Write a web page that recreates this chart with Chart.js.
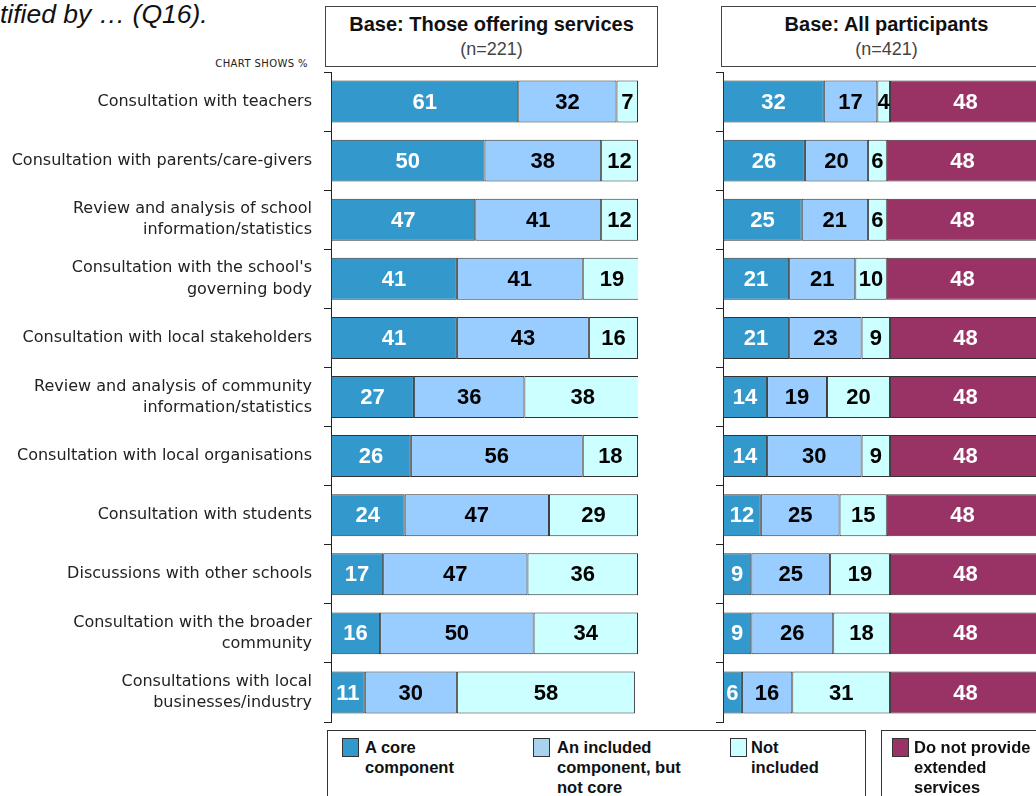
<!DOCTYPE html>
<html>
<head>
<meta charset="utf-8">
<script src="https://cdn.jsdelivr.net/npm/chart.js@4.4.1/dist/chart.umd.min.js"></script>
<style>
  body { margin: 0; width: 1036px; height: 796px; overflow: hidden; background: #fff; position: relative;
         font-family: "Liberation Sans", Arial, sans-serif; }
  canvas { position: absolute; }
  .title { position: absolute; left: 0; top: -1px; font-size: 26.5px; font-style: italic; color: #111; white-space: nowrap; }
  .shows { position: absolute; right: 728px; top: 58px; font: 10px "DejaVu Sans", sans-serif; letter-spacing: 0.4px; color: #222; white-space: nowrap; }
  .head { position: absolute; top: 6px; height: 59px; border: 1px solid #444; background: #fff; text-align: center; }
  .head b { display: block; font-size: 20px; margin-top: 6px; line-height: 22px; color: #111; }
  .head span { display: block; font-size: 18px; line-height: 22px; margin-top: 3px; color: #444; }
  .leg { position: absolute; top: 730px; height: 80px; border: 1px solid #333; background: #fff; }
  .item { position: absolute; top: 6px; font-weight: bold; font-size: 16.5px; line-height: 20px; color: #111; white-space: nowrap; }
  .sw { position: absolute; top: 7px; width: 15px; height: 17px; border: 1px solid #333; }
</style>
</head>
<body>
<div class="title">tified by … (Q16).</div>
<div class="shows">CHART SHOWS %</div>
<div class="head" style="left:325px;width:331px"><b>Base: Those offering services</b><span>(n=221)</span></div>
<div class="head" style="left:721px;width:329px"><b>Base: All participants</b><span>(n=421)</span></div>

<canvas id="left" width="670" height="730" style="left:0;top:31.5px"></canvas>
<canvas id="right" width="410" height="730" style="left:700px;top:31.5px"></canvas>

<div class="leg" style="left:327px;width:537px">
  <div class="sw" style="left:14px;background:#3399cc"></div>
  <div class="item" style="left:37px">A core<br>component</div>
  <div class="sw" style="left:205px;background:#a9d2ee"></div>
  <div class="item" style="left:229px">An included<br>component, but<br>not core</div>
  <div class="sw" style="left:402px;background:#ccffff"></div>
  <div class="item" style="left:423px">Not<br>included</div>
</div>
<div class="leg" style="left:881px;width:200px">
  <div class="sw" style="left:10px;background:#993366"></div>
  <div class="item" style="left:32px">Do not provide<br>extended<br>services</div>
</div>

<script>
// categories (top to bottom)
const categories = [
  "Consultation with teachers",
  "Consultation with parents/care-givers",
  ["Review and analysis of school", "information/statistics"],
  ["Consultation with the school's", "governing body"],
  "Consultation with local stakeholders",
  ["Review and analysis of community", "information/statistics"],
  "Consultation with local organisations",
  "Consultation with students",
  "Discussions with other schools",
  ["Consultation with the broader", "community"],
  ["Consultations with local", "businesses/industry"]
];
// Base: those offering services (n=221)
const leftCore     = [61, 50, 47, 41, 41, 27, 26, 24, 17, 16, 11];
const leftIncluded = [32, 38, 41, 41, 43, 36, 56, 47, 47, 50, 30];
const leftNot      = [7, 12, 12, 19, 16, 38, 18, 29, 36, 34, 58];
// Base: all participants (n=421)
const rightCore      = [32, 26, 25, 21, 21, 14, 14, 12, 9, 9, 6];
const rightIncluded  = [17, 20, 21, 21, 23, 19, 30, 25, 25, 26, 16];
const rightNot       = [4, 6, 6, 10, 9, 20, 9, 15, 19, 18, 31];
const rightNoService = [48, 48, 48, 48, 48, 48, 48, 48, 48, 48, 48];

const seriesNames = ["A core component", "An included component, but not core", "Not included", "Do not provide extended services"];
const fills = ["#3399cc", "#99ccff", "#ccffff", "#993366"];
const textCols = ["#fff", "#000", "#000", "#fff"];

// writes the number in the middle of every segment
const barValues = {
  id: "barValues",
  afterDatasetsDraw(chart) {
    const ctx = chart.ctx;
    ctx.save();
    ctx.font = 'bold 22px "Liberation Sans", Arial, sans-serif';
    ctx.textAlign = "center";
    ctx.textBaseline = "middle";
    chart.data.datasets.forEach((ds, i) => {
      chart.getDatasetMeta(i).data.forEach((bar, j) => {
        ctx.fillStyle = ds.valueColor;
        ctx.fillText(ds.data[j], (bar.x + bar.base) / 2, bar.y + 1);
      });
    });
    ctx.restore();
  }
};

function ds(idx, data) {
  return {
    label: seriesNames[idx],
    data: data,
    backgroundColor: fills[idx],
    borderColor: "#333",
    borderWidth: 1,
    borderSkipped: false,
    barPercentage: 1,
    categoryPercentage: 0.71,
    valueColor: textCols[idx]
  };
}

function panel(id, datasets, axisWidth, xMax, padRight, showLabels) {
  return new Chart(document.getElementById(id), {
    type: "bar",
    data: { labels: categories, datasets: datasets },
    options: {
      indexAxis: "y",
      responsive: false,
      animation: false,
      devicePixelRatio: 1,
      layout: { padding: { top: 40, bottom: 40, left: 0, right: padRight } },
      plugins: { legend: { display: false }, tooltip: { enabled: false } },
      scales: {
        x: { stacked: true, min: 0, max: xMax, display: false },
        y: {
          stacked: true,
          afterFit: s => { s.width = axisWidth; },
          border: { display: true, color: "#222", width: 1 },
          grid: { drawOnChartArea: false, drawTicks: true, tickLength: 7, color: "#222", offset: true },
          ticks: {
            display: showLabels,
            padding: 12,
            color: "#222",
            font: { family: '"DejaVu Sans", sans-serif', size: 16, lineHeight: 1.32 }
          }
        }
      }
    },
    plugins: [barValues]
  });
}

// left panel: 0..100 over 307px; right panel: 3.15px per point, runs off the page
panel("left", [ds(0, leftCore), ds(1, leftIncluded), ds(2, leftNot)], 331, 100, 32, true);
panel("right", [ds(0, rightCore), ds(1, rightIncluded), ds(2, rightNot), ds(3, rightNoService)], 23, 120, 9, false);
</script>
</body>
</html>
